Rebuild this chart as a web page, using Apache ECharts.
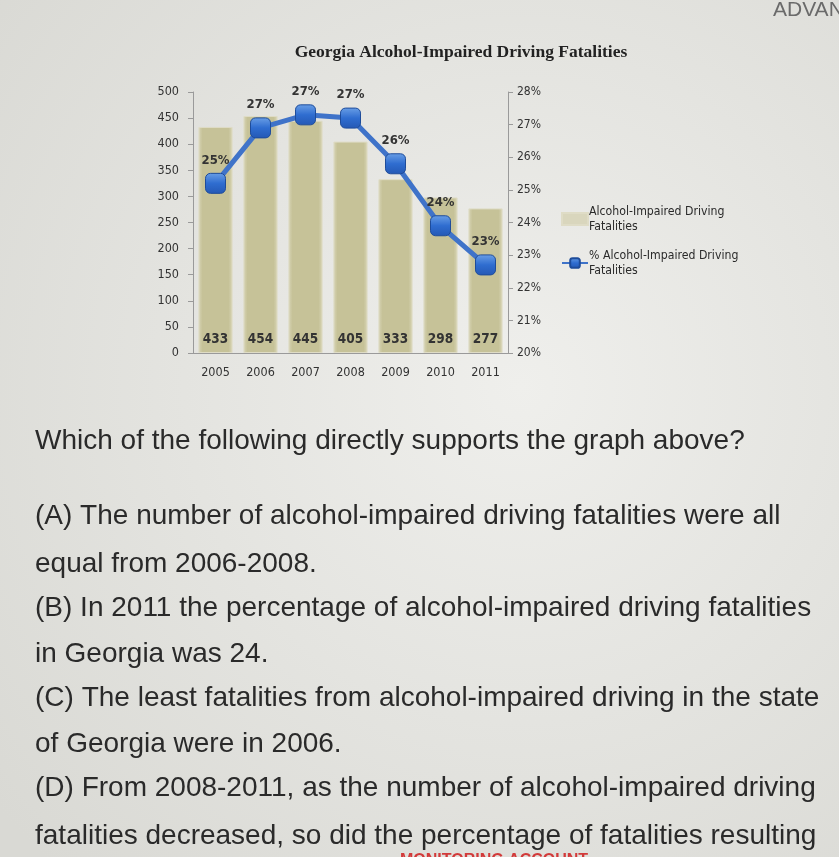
<!DOCTYPE html>
<html><head><meta charset="utf-8">
<script src="https://cdn.jsdelivr.net/npm/echarts@6/dist/echarts.min.js"></script>
<style>html,body{margin:0;padding:0;background:#e3e3df;}#c{width:839px;height:857px;}</style>
</head><body><div id="c"></div>
<script>
const years = ['2005','2006','2007','2008','2009','2010','2011'];
const fatalities = [433, 454, 445, 405, 333, 298, 277];
const pctFatalities = [25.2, 26.9, 27.3, 27.2, 25.8, 23.9, 22.7];
const leftTicks = {min: 0, max: 500, interval: 50};
const rightTicks = {min: 20, max: 28, interval: 1};
const titleText = 'Georgia Alcohol-Impaired Driving Fatalities';
const barName = 'Alcohol-Impaired Driving Fatalities';
const lineName = '% Alcohol-Impaired Driving Fatalities';
const questionLines = [
  'Which of the following directly supports the graph above?',
  '(A) The number of alcohol-impaired driving fatalities were all',
  'equal from 2006-2008.',
  '(B) In 2011 the percentage of alcohol-impaired driving fatalities',
  'in Georgia was 24.',
  '(C) The least fatalities from alcohol-impaired driving in the state',
  'of Georgia were in 2006.',
  '(D) From 2008-2011, as the number of alcohol-impaired driving',
  'fatalities decreased, so did the percentage of fatalities resulting'
];
const questionY = [443, 518, 566, 610, 656, 700, 746, 790, 838];

const chart = echarts.init(document.getElementById('c'), null, {renderer: 'canvas'});
const narrow = "'Liberation Sans Narrow','DejaVu Sans Condensed','Liberation Sans',sans-serif";
const qFont = "'Liberation Sans', Arial, sans-serif";

const graphics = [];
questionLines.forEach((t, i) => {
  graphics.push({type: 'text', left: 35, top: questionY[i] - 16,
    style: {text: t, font: '28px ' + qFont, fill: '#2a2a2a'}, z: 10});
});
graphics.push({type: 'text', left: 773, top: 0, style: {text: 'ADVAN', font: '21px ' + qFont, fill: '#6a6a6a'}});
graphics.push({type: 'text', left: 400, top: 853, style: {text: 'MONITORING ACCOUNT', font: 'bold 16px ' + qFont, fill: '#d23a3a'}});

chart.setOption({
  backgroundColor: {type: 'radial', x: 0.62, y: 0.45, r: 0.8,
    colorStops: [{offset: 0, color: '#efefec'}, {offset: 1, color: '#d9d9d4'}]},
  animation: false,
  title: {text: titleText, left: 456, top: 38, textAlign: 'center',
    textStyle: {fontFamily: "'Liberation Serif','DejaVu Serif',serif", fontWeight: 'bold', fontSize: 17.5, color: '#222'}},
  legend: {orient: 'vertical', left: 556, top: 199, itemGap: 14, itemWidth: 26, itemHeight: 12,
    data: [{name: barName, icon: 'rect', itemStyle: {color: '#d9d6bd'}}, {name: lineName}],
    formatter: n => n.replace(' Fatalities', '\nFatalities'),
    textStyle: {fontFamily: narrow, fontSize: 12.2, lineHeight: 15, color: '#2a2a2a', padding: [0, 0, 0, -4]}},
  graphic: graphics,
  grid: {left: 193, right: 331, top: 92, bottom: 504},
  xAxis: {type: 'category', data: years,
    axisLine: {lineStyle: {color: '#9a9a9a'}},
    axisTick: {lineStyle: {color: '#9a9a9a'}},
    axisLabel: {fontFamily: narrow, fontSize: 12.5, color: '#333', margin: 13}},
  yAxis: [
    {type: 'value', min: leftTicks.min, max: leftTicks.max, interval: leftTicks.interval,
      splitLine: {show: false},
      axisLine: {show: true, lineStyle: {color: '#9a9a9a'}},
      axisTick: {show: true, lineStyle: {color: '#9a9a9a'}},
      axisLabel: {fontFamily: narrow, fontSize: 12.5, color: '#333', margin: 14}},
    {type: 'value', min: rightTicks.min, max: rightTicks.max, interval: rightTicks.interval,
      position: 'right', splitLine: {show: false},
      axisLine: {show: true, lineStyle: {color: '#9a9a9a'}},
      axisTick: {show: true, lineStyle: {color: '#9a9a9a'}},
      axisLabel: {fontFamily: narrow, fontSize: 12, color: '#333', margin: 9, formatter: '{value}%'}}
  ],
  series: [
    {name: barName, type: 'bar', yAxisIndex: 0, data: fatalities, barCategoryGap: '24%',
      itemStyle: {color: {type: 'linear', x: 0, y: 0, x2: 1, y2: 0,
        colorStops: [{offset: 0, color: '#d8d5b6'}, {offset: 0.12, color: '#c6c298'},
                     {offset: 0.88, color: '#c6c298'}, {offset: 1, color: '#d8d5b6'}]},
        borderColor: '#dfdcc6', borderWidth: 1},
      label: {show: true, position: 'insideBottom', distance: 7,
        fontFamily: narrow, fontSize: 13.5, fontWeight: 'bold', color: '#333'}},
    {name: lineName, type: 'line', yAxisIndex: 1, data: pctFatalities,
      symbol: 'roundRect', symbolSize: 20,
      lineStyle: {width: 5, color: '#3f73c9'},
      itemStyle: {color: {type: 'linear', x: 0, y: 0, x2: 0, y2: 1,
        colorStops: [{offset: 0, color: '#6a9fe6'}, {offset: 0.5, color: '#2f6dd0'}, {offset: 1, color: '#2458b4'}]},
        borderColor: '#1e4c9a', borderWidth: 1},
      label: {show: true, position: 'top', distance: 6,
        formatter: p => Math.round(p.value) + '%',
        fontFamily: narrow, fontSize: 13, fontWeight: 'bold', color: '#333'}}
  ]
});
</script></body></html>
